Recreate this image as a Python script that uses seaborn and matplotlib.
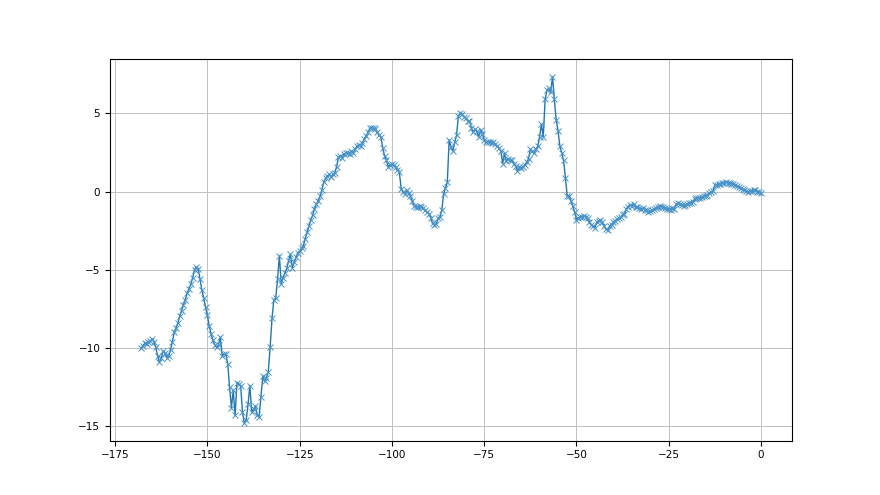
import numpy as np
import pandas as pd
import matplotlib
matplotlib.use("Agg")
import matplotlib.pyplot as plt
import seaborn as sns

# readings every half step, from -168 up to 0
values = [
    -10.0, -9.85, -9.7, -9.75, -9.6, -9.55, -9.4, -9.6, -9.95, -10.5, -10.9, -10.6, -10.2, -10.3, -10.6, -10.5, -10.1, -9.6, -9.0, -8.7,
    -8.4, -7.95, -7.6, -7.25, -6.9, -6.5, -6.2, -5.9, -5.5, -5.0, -4.8, -4.95, -5.6, -6.3, -6.8, -7.4, -7.9, -8.6, -9.1, -9.5,
    -9.8, -9.95, -9.8, -9.3, -10.5, -10.4, -10.4, -11.0, -12.5, -13.8, -12.7, -14.3, -12.2, -12.3, -12.4, -14.1, -14.8, -14.6, -13.6, -12.4,
    -14.1, -13.9, -13.7, -14.3, -14.4, -13.1, -11.8, -12.1, -11.9, -11.5, -9.9, -8.1, -6.9, -6.8, -5.6, -4.1, -5.9, -5.5, -5.2, -4.9,
    -4.4, -4.0, -4.85, -4.5, -4.2, -3.9, -3.8, -3.6, -3.45, -3.0, -2.6, -2.2, -1.8, -1.5, -1.1, -0.8, -0.6, -0.3, 0.1, 0.6,
    0.85, 1.0, 1.1, 0.95, 1.1, 1.2, 1.6, 2.2, 2.3, 2.15, 2.4, 2.45, 2.5, 2.4, 2.6, 2.5, 2.7, 2.9, 3.0, 2.95,
    3.1, 3.4, 3.55, 3.8, 4.05, 4.1, 4.05, 4.0, 3.8, 3.6, 3.5, 2.8, 2.3, 2.0, 1.6, 1.7, 1.75, 1.7, 1.6, 1.4,
    1.25, 0.2, 0.0, -0.15, 0.1, -0.1, -0.3, -0.6, -0.9, -1.0, -0.95, -0.9, -1.0, -1.05, -1.2, -1.3, -1.4, -1.65, -2.0, -2.1,
    -2.05, -1.7, -1.6, -1.2, -0.15, 0.25, 0.6, 3.3, 2.85, 2.6, 3.15, 3.6, 4.85, 5.0, 4.95, 4.8, 4.7, 4.55, 4.5, 4.1,
    3.8, 4.0, 3.85, 3.5, 3.95, 3.7, 3.3, 3.15, 3.2, 3.15, 3.1, 3.15, 3.05, 2.9, 2.8, 2.6, 1.8, 2.45, 1.95, 2.1,
    2.0, 2.0, 1.8, 1.65, 1.35, 1.55, 1.5, 1.6, 1.7, 1.9, 2.1, 2.7, 2.6, 2.45, 2.7, 2.9, 3.5, 4.3, 3.5, 5.9,
    6.5, 6.6, 6.35, 7.35, 5.9, 4.6, 3.9, 2.9, 2.5, 2.0, 0.9, -0.3, -0.25, -0.6, -0.9, -1.3, -1.8, -1.7, -1.6, -1.6,
    -1.55, -1.6, -1.7, -1.95, -2.1, -2.2, -2.3, -1.95, -1.85, -1.8, -1.95, -2.2, -2.4, -2.45, -2.2, -2.1, -1.95, -1.85, -1.75, -1.7,
    -1.6, -1.5, -1.4, -1.1, -0.95, -0.85, -0.9, -0.8, -1.0, -0.95, -1.05, -1.1, -1.05, -1.15, -1.2, -1.3, -1.25, -1.2, -1.1, -1.05,
    -0.95, -0.9, -0.95, -1.0, -1.05, -1.1, -1.1, -1.15, -1.05, -1.1, -0.8, -0.75, -0.8, -0.85, -0.9, -0.85, -0.8, -0.75, -0.7, -0.65,
    -0.45, -0.4, -0.4, -0.38, -0.35, -0.3, -0.25, -0.2, -0.1, -0.05, 0.05, 0.4, 0.45, 0.48, 0.5, 0.55, 0.58, 0.6, 0.57, 0.55,
    0.52, 0.48, 0.42, 0.35, 0.3, 0.22, 0.15, 0.1, 0.05, -0.02, 0.02, 0.06, 0.1, 0.08, 0.0, -0.05, -0.1,
]
steps = np.arange(-168, 0.5, 0.5)

df = pd.DataFrame({"step": steps, "value": values})

fig, ax = plt.subplots(figsize=(8.8, 4.95), dpi=100)
sns.lineplot(data=df, x="step", y="value", ax=ax, color="#1f77b4",
             marker="x", markersize=5, markeredgecolor="#4a93c8",
             markeredgewidth=0.7, linewidth=1.0)
ax.set_xlabel("")
ax.set_ylabel("")
ax.grid(True, color="#c0c0c0", linewidth=0.7)
ax.tick_params(labelsize=7.5)

fig.savefig("out.png", dpi=100)
